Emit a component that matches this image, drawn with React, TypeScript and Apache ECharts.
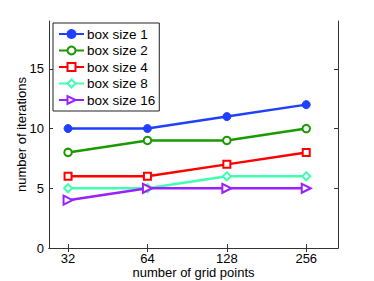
import React, { useEffect, useRef } from "react";
import * as echarts from "echarts";

const gridPoints = [32, 64, 128, 256];
const seriesNames = ["box size 1", "box size 2", "box size 4", "box size 8", "box size 16"];
const box1 = [10, 10, 11, 12];
const box2 = [8, 9, 9, 10];
const box4 = [6, 6, 7, 8];
const box8 = [5, 5, 6, 6];
const box16 = [4, 5, 5, 5];
const yTicks = [0, 5, 10, 15];

const colors = ["#2040ff", "#1a9a00", "#ff0000", "#40ffb0", "#9a20ff"];
const symbols = ["circle", "emptyCircle", "emptyRect", "emptyDiamond", "emptyTriangle"];
const symbolSizes = [8, 7.5, 7, 8, 9];
const symbolRotates = [0, 0, 0, 0, -90];

const FONT = "Liberation Sans, Arial, Helvetica, sans-serif";

export default function App() {
  const ref = useRef<HTMLDivElement>(null);
  useEffect(() => {
    if (!ref.current) return;
    const chart = echarts.init(ref.current, undefined, { renderer: "svg" });
    const allData = [box1, box2, box4, box8, box16];
    const xTickVals = gridPoints.map((g) => Math.log2(g));
    const axisLineStyle = { color: "#333", width: 1 };
    const tick = { show: true, inside: true, length: 4, lineStyle: { color: "#333" }, customValues: xTickVals };
    const ytick = { show: true, inside: true, length: 4, lineStyle: { color: "#333" }, customValues: yTicks };
    chart.setOption({
      animation: false,
      backgroundColor: "#fff",
      textStyle: { fontFamily: FONT },
      grid: { left: 49, right: 36, top: 21, bottom: 33, containLabel: false, outerBoundsMode: "none" },
      legend: {
        orient: "vertical",
        left: 53,
        top: 23,
        padding: [4, 4, 4, 5],
        itemGap: 2.5,
        itemWidth: 25,
        itemHeight: 10,
        backgroundColor: "#fff",
        borderColor: "#222",
        borderWidth: 1,
        borderRadius: 0,
        textStyle: { fontFamily: FONT, fontSize: 13.5, color: "#000", padding: [0, 0, 0, -2] },
        data: seriesNames,
      },
      xAxis: [
        {
          type: "value",
          min: 4.76,
          max: 8.4,
          position: "bottom",
          name: "number of grid points",
          nameLocation: "middle",
          nameGap: 18,
          nameMoveOverlap: false,
          nameTextStyle: { fontFamily: FONT, fontSize: 13, color: "#000" },
          axisLine: { show: true, lineStyle: axisLineStyle },
          axisTick: tick,
          splitLine: { show: false },
          axisLabel: {
            customValues: xTickVals,
            formatter: (v: number) => String(Math.round(Math.pow(2, v))),
            fontFamily: FONT,
            fontSize: 13,
            color: "#000",
            margin: 4,
          },
        },
        {
          type: "value",
          min: 4.76,
          max: 8.4,
          position: "top",
          axisLine: { show: true, lineStyle: axisLineStyle },
          axisTick: tick,
          splitLine: { show: false },
          axisLabel: { show: false },
        },
      ],
      yAxis: [
        {
          type: "value",
          min: 0,
          max: 19,
          position: "left",
          name: "number of iterations",
          nameLocation: "middle",
          nameGap: 21.5,
          nameMoveOverlap: false,
          nameTextStyle: { fontFamily: FONT, fontSize: 13, color: "#000" },
          axisLine: { show: true, lineStyle: axisLineStyle },
          axisTick: ytick,
          splitLine: { show: false },
          axisLabel: { customValues: yTicks, fontFamily: FONT, fontSize: 13, color: "#000", margin: 5 },
        },
        {
          type: "value",
          min: 0,
          max: 19,
          position: "right",
          axisLine: { show: true, lineStyle: axisLineStyle },
          axisTick: ytick,
          splitLine: { show: false },
          axisLabel: { show: false },
        },
      ],
      series: seriesNames.map((name, i) => ({
        name,
        type: "line",
        xAxisIndex: 0,
        yAxisIndex: 0,
        data: gridPoints.map((g, j) => [Math.log2(g), allData[i][j]]),
        symbol: symbols[i],
        symbolSize: symbolSizes[i],
        symbolRotate: symbolRotates[i],
        showAllSymbol: true,
        color: colors[i],
        lineStyle: { color: colors[i], width: 2.5 },
        itemStyle: { color: colors[i], borderColor: colors[i], borderWidth: i === 0 ? 1 : 2 },
        z: 2 + i,
      })),
    });
    return () => chart.dispose();
  }, []);
  return (
    <div
      ref={ref}
      style={{ width: 374, height: 281, position: "fixed", left: 0, top: 0 }}
    />
  );
}
